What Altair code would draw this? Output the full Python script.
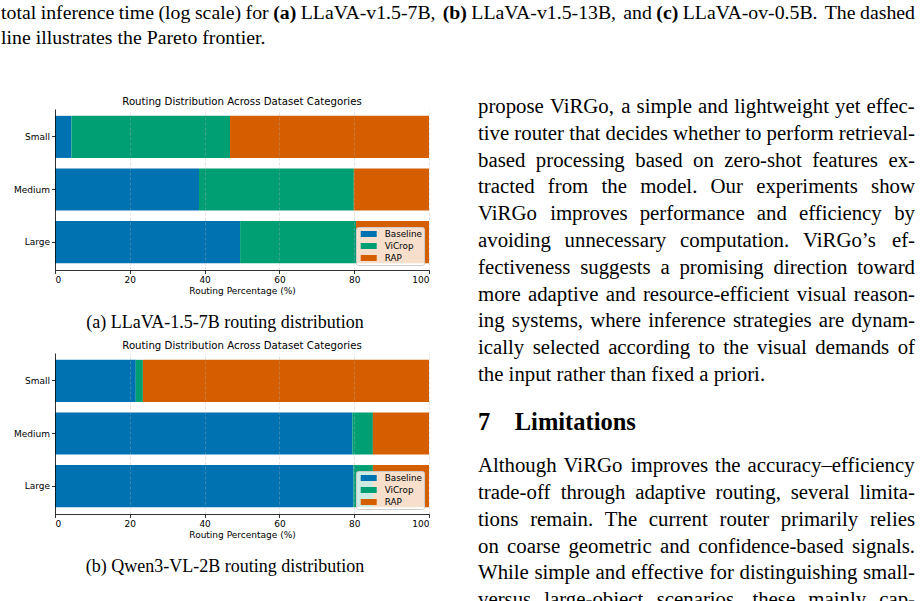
import altair as alt
import pandas as pd

# --- routing data -----------------------------------------------------------
categories = ["Small", "Medium", "Large"]
methods = ["Baseline", "ViCrop", "RAP"]
method_colors = ["#0072B2", "#009E73", "#D55E00"]
tick_values = [0, 20, 40, 60, 80, 100]

# routing shares (%) per size category, in the order Small, Medium, Large
llava_baseline = [4.4, 38.5, 49.5]
llava_vicrop = [42.4, 41.4, 31.0]
llava_rap = [53.2, 20.1, 19.5]

qwen_baseline = [21.6, 79.5, 79.8]
qwen_vicrop = [1.9, 5.5, 5.2]
qwen_rap = [76.5, 15.0, 15.0]

# --- text -------------------------------------------------------------------
panel_title = "Routing Distribution Across Dataset Categories"
x_title = "Routing Percentage (%)"
caption_a = "(a) LLaVA-1.5-7B routing distribution"
caption_b = "(b) Qwen3-VL-2B routing distribution"

figure_caption = [
    "total inference time (log scale) for (a) LLaVA-v1.5-7B, (b) LLaVA-v1.5-13B, and (c) LLaVA-ov-0.5B. The dashed",
    "line illustrates the Pareto frontier.",
]
caption_bold_words = ["(a)", "(b)", "(c)"]

paragraph_1 = [
    "propose ViRGo, a simple and lightweight yet effec-",
    "tive router that decides whether to perform retrieval-",
    "based processing based on zero-shot features ex-",
    "tracted from the model.  Our experiments show",
    "ViRGo improves performance and efficiency by",
    "avoiding unnecessary computation.  ViRGo\u2019s ef-",
    "fectiveness suggests a promising direction toward",
    "more adaptive and resource-efficient visual reason-",
    "ing systems, where inference strategies are dynam-",
    "ically selected according to the visual demands of",
    "the input rather than fixed a priori.",
]
section_heading = "7\u2003Limitations"
paragraph_2 = [
    "Although ViRGo improves the accuracy\u2013efficiency",
    "trade-off through adaptive routing, several limita-",
    "tions remain.  The current router primarily relies",
    "on coarse geometric and confidence-based signals.",
    "While simple and effective for distinguishing small-",
    "versus large-object scenarios, these mainly cap-",
]

SERIF = "Liberation Serif"
SANS = "DejaVu Sans"
BODY_SIZE = 20.8
CAPTION_SIZE = 19.8
PLOT_W, PLOT_H = 374, 161
PLOT_LEFT = 55       # page x of the plot origin
COLUMN_LEFT = 478    # page x of the text column
COLUMN_WIDTH = 437   # justified width of the text column
PAGE_WIDTH = 914     # justified width of the full-width caption
CAPTION_TOP = -96    # first caption line, relative to the upper plot
CAPTION_PITCH = 25
BODY_TOP = -2        # first body line, relative to the upper plot
LINE = 26.8          # body line pitch in px
HEADING_GAP = 1.8    # extra lines before heading
AFTER_HEADING = 1.6  # lines from heading to next paragraph
PANEL_GAP = 83       # between the two plot areas

# Times advance widths (1/1000 em) used to justify lines word by word
_TIMES = {" ": 250, "!": 333, "%": 833, "'": 333, "(": 333, ")": 333,
          ",": 250, "-": 333, ".": 250, "/": 278, ":": 278, ";": 278,
          "?": 444, "\u2019": 333, "\u2013": 500}
_TIMES.update({d: 500 for d in "0123456789"})
_TIMES.update(dict(zip("ABCDEFGHIJKLMNOPQRSTUVWXYZ",
                       [722, 667, 667, 722, 611, 556, 722, 722, 333, 389, 722, 611, 889,
                        722, 722, 556, 722, 667, 556, 611, 722, 722, 944, 722, 722, 611])))
_TIMES.update(dict(zip("abcdefghijklmnopqrstuvwxyz",
                       [444, 500, 444, 500, 444, 333, 500, 500, 278, 278, 500, 278, 778,
                        500, 500, 500, 500, 333, 389, 278, 500, 500, 722, 500, 500, 444])))
_TIMES_BOLD = {"(": 333, ")": 333, "a": 500, "b": 556, "c": 444}


def word_width(word, size, bold=False):
    table = _TIMES_BOLD if bold else _TIMES
    return sum(table.get(ch, _TIMES.get(ch, 500)) for ch in word) * size / 1000.0


def lay_out_line(line, size, target, justify, bold_words=()):
    words = line.split()
    bolds = [w in bold_words for w in words]
    widths = [word_width(w, size, b) for w, b in zip(words, bolds)]
    if justify and len(words) > 1:
        gap = (target - sum(widths)) / (len(words) - 1)
    else:
        gap = 250 * size / 1000.0
    out, x = [], 0.0
    for w, b, wd in zip(words, bolds, widths):
        out.append({"word": w, "x": x, "bold": b})
        x += wd + gap
    return out


def routing_frame(baseline, vicrop, rap):
    rows = []
    for i, cat in enumerate(categories):
        for j, vals in enumerate([baseline, vicrop, rap]):
            rows.append({"category": cat, "method": methods[j],
                         "share": vals[i], "stack_order": j})
    return pd.DataFrame(rows)


def routing_layers(df, caption):
    bars = alt.Chart(df).mark_bar().encode(
        x=alt.X(
            "share:Q", stack="zero",
            scale=alt.Scale(domain=[0, 100], nice=False),
            axis=alt.Axis(values=tick_values, title=x_title, grid=True,
                          gridDash=[3, 2], gridColor="#b0b0b0",
                          gridOpacity=0.45, gridWidth=0.8, zindex=1,
                          titlePadding=2),
        ),
        y=alt.Y(
            "category:N", sort=categories,
            scale=alt.Scale(paddingInner=0.2, paddingOuter=0.13),
            axis=alt.Axis(title=None, grid=False, zindex=1,
                          minExtent=55, maxExtent=55),
        ),
        color=alt.Color(
            "method:N", sort=methods,
            scale=alt.Scale(domain=methods, range=method_colors),
            legend=alt.Legend(
                title=None, orient="bottom-right", offset=5,
                fillColor="rgba(255,255,255,0.8)", strokeColor="#cccccc",
                cornerRadius=2, padding=2,
                # wide flat patch: 16 x 6 px drawn on a 10 px symbol slot
                symbolType="M-1.6,-0.6H1.6V0.6H-1.6Z", symbolSize=100,
                symbolOffset=5.7,
                symbolStrokeWidth=0, symbolOpacity=1,
                labelFont=SANS, labelFontSize=8.8, labelColor="black",
                labelOffset=11, rowPadding=2,
            ),
        ),
        order=alt.Order("stack_order:Q"),
    )
    labels = pd.DataFrame({"label": [panel_title, caption]})
    heading = alt.Chart(labels).transform_filter(
        alt.datum.label == panel_title
    ).mark_text(
        font=SANS, fontSize=10.2, align="center", baseline="middle", color="black",
    ).encode(x=alt.value(PLOT_W / 2), y=alt.value(-7.5), text="label:N")
    cap = alt.Chart(labels).transform_filter(
        alt.datum.label == caption
    ).mark_text(
        font=SERIF, fontSize=18, align="center", baseline="middle", color="black",
    ).encode(x=alt.value(170), y=alt.value(214), text="label:N")
    return [bars, heading, cap]


# --- figure caption across the top ------------------------------------------
cap_rows = []
for r, line in enumerate(figure_caption):
    last = r == len(figure_caption) - 1
    for item in lay_out_line(line, CAPTION_SIZE, PAGE_WIDTH, not last, caption_bold_words):
        item["crow"] = r
        cap_rows.append(item)
cap_df = pd.DataFrame(cap_rows)

cap_x = alt.X("x:Q", axis=None, scale=alt.Scale(
    domain=[0, PAGE_WIDTH], range=[1 - PLOT_LEFT, 1 - PLOT_LEFT + PAGE_WIDTH]))
cap_y = alt.Y("crow:Q", axis=None, scale=alt.Scale(
    domain=[0, 1], range=[CAPTION_TOP, CAPTION_TOP + CAPTION_PITCH]))
cap_regular = alt.Chart(cap_df).transform_filter("!datum.bold").mark_text(
    font=SERIF, fontSize=CAPTION_SIZE, align="left", baseline="middle", color="black"
).encode(x=cap_x, y=cap_y, text="word:N")
cap_bold = alt.Chart(cap_df).transform_filter("datum.bold").mark_text(
    font=SERIF, fontSize=CAPTION_SIZE, fontWeight="bold", align="left",
    baseline="middle", color="black"
).encode(x=cap_x, y=cap_y, text="word:N")

# --- body text column -------------------------------------------------------
body_rows = []
for k, line in enumerate(paragraph_1):
    for item in lay_out_line(line, BODY_SIZE, COLUMN_WIDTH, k < len(paragraph_1) - 1):
        item["row"] = k
        body_rows.append(item)
heading_row = len(paragraph_1) - 1 + HEADING_GAP
for k, line in enumerate(paragraph_2):
    for item in lay_out_line(line, BODY_SIZE, COLUMN_WIDTH, True):
        item["row"] = heading_row + AFTER_HEADING + k
        body_rows.append(item)
body_df = pd.DataFrame(body_rows)
head_df = pd.DataFrame({"line": [section_heading], "row": [heading_row]})

n_rows = 18
col_left = COLUMN_LEFT - PLOT_LEFT
row_y = alt.Y("row:Q", axis=None, scale=alt.Scale(
    domain=[0, n_rows], range=[BODY_TOP, BODY_TOP + n_rows * LINE]))
col_x = alt.X("x:Q", axis=None, scale=alt.Scale(
    domain=[0, COLUMN_WIDTH], range=[col_left, col_left + COLUMN_WIDTH]))

body = alt.Chart(body_df).mark_text(
    font=SERIF, fontSize=BODY_SIZE, align="left", baseline="middle", color="black"
).encode(x=col_x, y=row_y, text="word:N")

head = alt.Chart(head_df).mark_text(
    font=SERIF, fontSize=24.5, fontWeight="bold", align="left",
    baseline="middle", color="black"
).encode(x=alt.value(col_left), y=row_y, text="line:N")

# --- assemble ----------------------------------------------------------------
panel_a = alt.layer(
    *routing_layers(routing_frame(llava_baseline, llava_vicrop, llava_rap), caption_a),
    cap_regular, cap_bold, body, head,
).resolve_scale(x="independent", y="independent").properties(
    width=PLOT_W, height=PLOT_H)

panel_b = alt.layer(
    *routing_layers(routing_frame(qwen_baseline, qwen_vicrop, qwen_rap), caption_b),
).properties(width=PLOT_W, height=PLOT_H)

chart = alt.vconcat(
    panel_a, panel_b, spacing=PANEL_GAP, bounds="flush",
).resolve_scale(
    color="independent"
).resolve_legend(
    color="independent"
).configure(
    padding={"left": 0, "top": 3, "right": 0, "bottom": 0}
).configure_view(
    stroke=None
).configure_axis(
    labelFont=SANS, labelFontSize=9, labelColor="black",
    titleFont=SANS, titleFontSize=9, titleFontWeight="normal", titleColor="black",
    domainColor="black", domainWidth=0.8, tickColor="black", tickWidth=0.8,
    tickSize=3.5, labelPadding=2,
)

chart.save("out.html", embed_options={"renderer": "svg", "actions": False})
